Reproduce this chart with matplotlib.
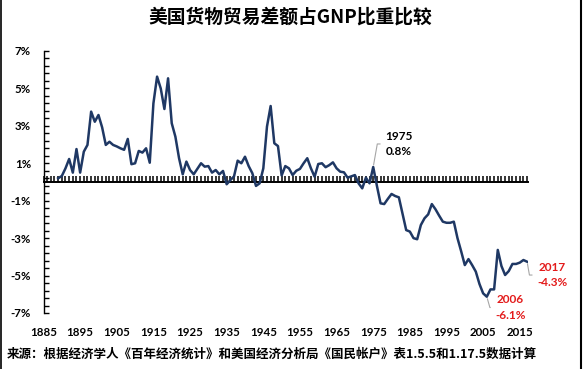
import numpy as np
import matplotlib
matplotlib.use("Agg")
import matplotlib.pyplot as plt
from matplotlib.lines import Line2D

# US merchandise trade balance as % of GNP, one value per year 1889-2017
years = list(range(1889, 2018))
share = [
    0.2, 0.32, 0.73, 1.23, 0.5, 1.76, 0.5, 1.62, 1.98, 3.76,          # 1889-1898
    3.22, 3.58, 2.92, 1.98, 2.15, 1.98, 1.9, 1.8, 1.72, 2.3,          # 1899-1908
    0.95, 1.0, 1.66, 1.57, 1.8, 1.03, 4.2, 5.63, 5.0, 3.9,            # 1909-1918
    5.54, 3.14, 2.42, 1.27, 0.41, 1.09, 0.64, 0.41, 0.7, 1.0,         # 1919-1928
    0.82, 0.85, 0.5, 0.64, 0.41, 0.59, -0.12, 0.1, 0.3, 1.14,         # 1929-1938
    1.0, 1.35, 0.85, 0.47, -0.21, -0.07, 0.73, 2.96, 4.06, 2.07,      # 1939-1948
    1.92, 0.35, 0.85, 0.73, 0.37, 0.6, 0.7, 1.0, 1.27, 0.73,          # 1949-1958
    0.28, 0.96, 1.0, 0.79, 0.9, 1.05, 0.73, 0.55, 0.52, 0.23,         # 1959-1968
    0.3, 0.37, -0.07, -0.34, 0.23, -0.07, 0.8, -0.2, -1.14, -1.18,    # 1969-1978
    -0.9, -0.64, -0.75, -0.82, -1.7, -2.57, -2.65, -3.0, -3.06, -2.3,  # 1979-1988
    -1.94, -1.73, -1.18, -1.46, -1.8, -2.12, -2.18, -2.18, -2.12, -3.0,  # 1989-1998
    -3.7, -4.44, -4.12, -4.44, -4.79, -5.45, -5.95, -6.13, -5.74, -5.74,  # 1999-2008
    -3.63, -4.49, -4.97, -4.76, -4.38, -4.38, -4.31, -4.17, -4.26,      # 2009-2017
]

ytick_vals = [-7, -5, -3, -1, 1, 3, 5, 7]
xtick_years = list(range(1885, 2016, 10))
year_ticks = list(range(1885, 2018))

# labelled points: year, text, colour
callouts = [(1975, "1975\n0.8%", "black"),
            (2006, "2006\n-6.1%", "#E31B1B"),
            (2017, "2017\n-4.3%", "#E31B1B")]
# where each label sits relative to its point (points) and the slope of its leader line
callout_offsets = {1975: (8.5, 16.6, 80), 2006: (6.0, -7.8, -74), 2017: (7.1, -9.6, -80)}

title = "美国货物贸易差额占GNP比重比较"
source = "来源：根据经济学人《百年经济统计》和美国经济分析局《国民帐户》表1.5.5和1.17.5数据计算"

fig = plt.figure(figsize=(5.84, 3.69), dpi=100)
rect = [0.0745, 0.1518, 0.8293, 0.71]
xlim = (1885, 2017.2)

# back axes: only the zero line with one tick per year
zax = fig.add_axes(rect)
zax.set_zorder(0)
ax = fig.add_axes(rect)
ax.set_zorder(1)
ax.patch.set_visible(False)

zax.set_xlim(*xlim)
zax.set_ylim(-7, 7)
for s in ["top", "right", "left"]:
    zax.spines[s].set_visible(False)
zax.spines["bottom"].set_position(("data", 0))
zax.spines["bottom"].set_linewidth(1.4)
zax.set_yticks([])
zax.set_xticks(year_ticks)
zax.tick_params(axis="x", direction="in", length=4, width=1.1, color="black", labelbottom=False)

ax.plot(years, share, color="#1F3864", lw=1.8, zorder=3, solid_joinstyle="round")

ax.set_xlim(*xlim)
ax.set_ylim(-7, 7)

for s in ["top", "right", "bottom"]:
    ax.spines[s].set_visible(False)
ax.spines["left"].set_linewidth(1.0)

ax.set_yticks(ytick_vals)
ax.set_yticklabels([f"{v}%" for v in ytick_vals])
ax.set_yticks(np.arange(-7, 7.01, 0.4), minor=True)
ax.tick_params(axis="y", which="both", direction="in", length=3.5, width=1.0, color="black", pad=9)
ax.tick_params(axis="y", labelsize=8.3)

ax.set_xticks(xtick_years)
ax.set_xticklabels([str(y) for y in xtick_years])
ax.tick_params(axis="x", length=0, pad=10, labelsize=8.3)

for lab in ax.get_xticklabels() + ax.get_yticklabels():
    lab.set_fontfamily("Lato")
    lab.set_fontweight("bold")

for yr, txt, col in callouts:
    dx, dy, ang = callout_offsets[yr]
    ax.annotate(txt, xy=(yr, share[years.index(yr)]), xytext=(dx, dy),
                textcoords="offset points", ha="left", va="center",
                multialignment="center", fontsize=8.5, fontweight="bold",
                family="Lato", color=col, linespacing=1.5, zorder=4,
                arrowprops=dict(arrowstyle="-", color="#A6A6A6", lw=0.8,
                                shrinkA=1.5, shrinkB=1.5, relpos=(0, 0.5),
                                connectionstyle=f"angle,angleA=0,angleB={ang},rad=0"))

fig.text(0.497, 1 - 17 / 369, title, ha="center", va="center", fontsize=13.5,
         fontweight="bold", family=["Noto Sans CJK SC", "DejaVu Sans"])
fig.text(7 / 584, 1 - 354 / 369, source, ha="left", va="center", fontsize=9,
         fontweight="bold", family=["Noto Sans CJK SC", "DejaVu Sans"])

# thin frame on the left and right edges of the picture
fig.add_artist(Line2D([0.8 / 584] * 2, [0, 1], transform=fig.transFigure, color="black", lw=1.2))
fig.add_artist(Line2D([580.5 / 584] * 2, [0, 1], transform=fig.transFigure, color="black", lw=1.5))

fig.savefig("out.png", dpi=100)
